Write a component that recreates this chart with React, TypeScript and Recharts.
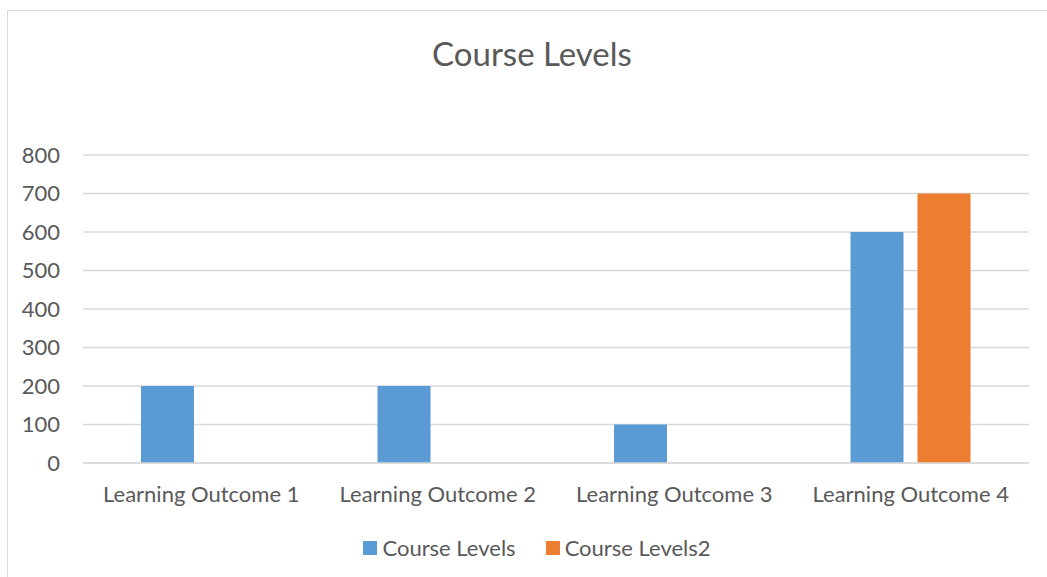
import React from "react";
import { BarChart, Bar, XAxis, YAxis, CartesianGrid } from "recharts";

const categories = ["Learning Outcome 1", "Learning Outcome 2", "Learning Outcome 3", "Learning Outcome 4"];
const courseLevels = [200, 200, 100, 600];
const courseLevels2 = [0, 0, 0, 700];
const yTicks = [0, 100, 200, 300, 400, 500, 600, 700, 800];

const seriesList = [
  { key: "courseLevels", name: "Course Levels", color: "#5B9BD5" },
  { key: "courseLevels2", name: "Course Levels2", color: "#ED7D31" },
];

const data = categories.map((c, i) => ({
  name: c,
  courseLevels: courseLevels[i],
  courseLevels2: courseLevels2[i],
}));

const FONT = "Lato, 'Open Sans', sans-serif";
const TEXT = "#595959";

export default function App() {
  return (
    <div
      style={{
        position: "absolute",
        left: 0,
        top: 0,
        width: 1047,
        height: 577,
        overflow: "hidden",
        background: "#fff",
        fontFamily: FONT,
      }}
    >
      {/* chart frame, only left and top edges are visible */}
      <div
        style={{
          position: "absolute",
          left: 7,
          top: 10,
          width: 1100,
          height: 620,
          border: "1px solid #D9D9D9",
        }}
      />
      <div
        style={{
          position: "absolute",
          left: 0,
          width: 1064,
          top: 33,
          textAlign: "center",
          fontSize: 33,
          color: TEXT,
          lineHeight: "40px",
        }}
      >
        Course Levels
      </div>
      <div style={{ position: "absolute", left: 0, top: 0 }}>
        <BarChart
          width={1047}
          height={577}
          data={data}
          margin={{ top: 155, right: 18, left: 0, bottom: 74 }}
          barGap={14}
          barCategoryGap={58}
        >
          <CartesianGrid vertical={false} stroke="#D9D9D9" strokeWidth={1.3} />
          <XAxis
            dataKey="name"
            axisLine={{ stroke: "#D9D9D9", strokeWidth: 1.3 }}
            tickLine={false}
            tickSize={0}
            tickMargin={23}
            height={40}
            interval={0}
            tick={{ fill: TEXT, fontSize: 22, fontFamily: FONT }}
          />
          <YAxis
            domain={[0, 800]}
            ticks={yTicks}
            axisLine={false}
            tickLine={false}
            tickSize={0}
            tickMargin={23}
            width={83}
            interval={0}
            tick={{ fill: TEXT, fontSize: 22, fontFamily: FONT }}
          />
          {seriesList.map((s) => (
            <Bar key={s.key} dataKey={s.key} name={s.name} fill={s.color} isAnimationActive={false} />
          ))}
        </BarChart>
      </div>
      <div
        style={{
          position: "absolute",
          left: 0,
          width: 1074,
          top: 535,
          display: "flex",
          justifyContent: "center",
          gap: 30,
          fontSize: 22,
          color: TEXT,
          lineHeight: "26px",
        }}
      >
        {seriesList.map((s) => (
          <div key={s.key} style={{ display: "flex", alignItems: "center", gap: 5 }}>
            <span style={{ display: "inline-block", width: 14, height: 14, background: s.color }} />
            <span>{s.name}</span>
          </div>
        ))}
      </div>
    </div>
  );
}
